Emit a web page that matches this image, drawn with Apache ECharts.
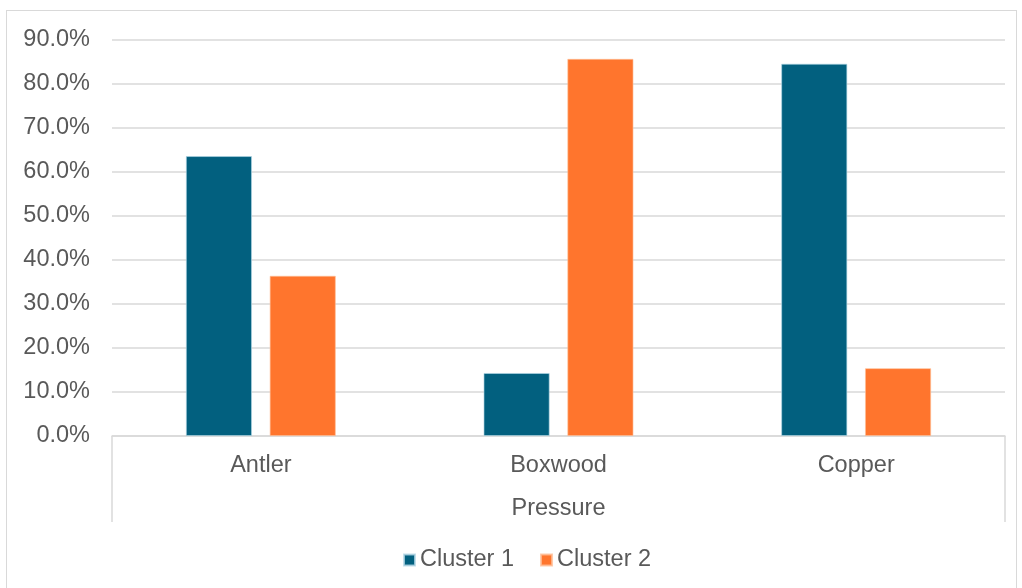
<!DOCTYPE html>
<html>
<head>
<meta charset="utf-8">
<script src="https://cdn.jsdelivr.net/npm/echarts@6/dist/echarts.min.js"></script>
<style>
html,body{margin:0;padding:0;background:#fff;}
#c{position:absolute;left:0;top:0;width:1022px;height:588px;}
#frame{position:absolute;left:6px;top:10px;width:1009px;height:590px;border:1px solid #d9d9d9;pointer-events:none;}
</style>
</head>
<body>
<div id="c"></div>
<div id="frame"></div>
<script>
var categories = ['Antler', 'Boxwood', 'Copper'];
var groupLabel = ['Pressure'];
var seriesNames = ['Cluster 1', 'Cluster 2'];
var cluster1 = [63.6, 14.3, 84.6];
var cluster2 = [36.4, 85.7, 15.4];
var colors = ['#02607F', '#FF752D'];

var font = 'Liberation Sans, Arial, sans-serif';
var txt = '#595959';
var fs = 23.5;
var chart = echarts.init(document.getElementById('c'));
chart.setOption({
  animation: false,
  textStyle: {fontFamily: font},
  legend: {
    data: seriesNames,
    left: 398, top: 543,
    icon: 'rect', itemWidth: 11, itemHeight: 11, itemGap: 26,
    textStyle: {fontSize: fs, color: txt, fontFamily: font}
  },
  grid: {left: 112, right: 17, top: 40, bottom: 152, containLabel: false},
  xAxis: [{
    type: 'category', data: categories, position: 'bottom',
    axisLine: {show: true, lineStyle: {color: '#d9d9d9', width: 1.5}},
    axisTick: {show: false},
    axisLabel: {fontSize: fs, color: txt, margin: 18, fontFamily: font}
  }, {
    type: 'category', data: groupLabel, position: 'bottom', boundaryGap: true,
    axisLine: {show: false},
    axisTick: {show: true, length: 86, lineStyle: {color: '#d9d9d9', width: 1.5}},
    axisLabel: {fontSize: fs, color: txt, margin: 61, fontFamily: font}
  }],
  yAxis: {
    type: 'value', min: 0, max: 90, interval: 10,
    axisLine: {show: false}, axisTick: {show: false},
    splitLine: {lineStyle: {color: '#d9d9d9', width: 1.5}},
    axisLabel: {fontSize: fs, color: txt, margin: 22, fontFamily: font,
      formatter: function(v){ return v.toFixed(1) + '%'; }}
  },
  series: [{
    name: seriesNames[0], type: 'bar', data: cluster1, xAxisIndex: 0,
    barWidth: 66, barGap: '27%',
    itemStyle: {color: colors[0], borderColor: 'rgba(180,215,230,0.8)', borderWidth: 0.8}
  }, {
    name: seriesNames[1], type: 'bar', data: cluster2, xAxisIndex: 0,
    barWidth: 66, barGap: '27%',
    itemStyle: {color: colors[1], borderColor: 'rgba(255,190,150,0.8)', borderWidth: 0.8}
  }]
});
</script>
</body>
</html>
